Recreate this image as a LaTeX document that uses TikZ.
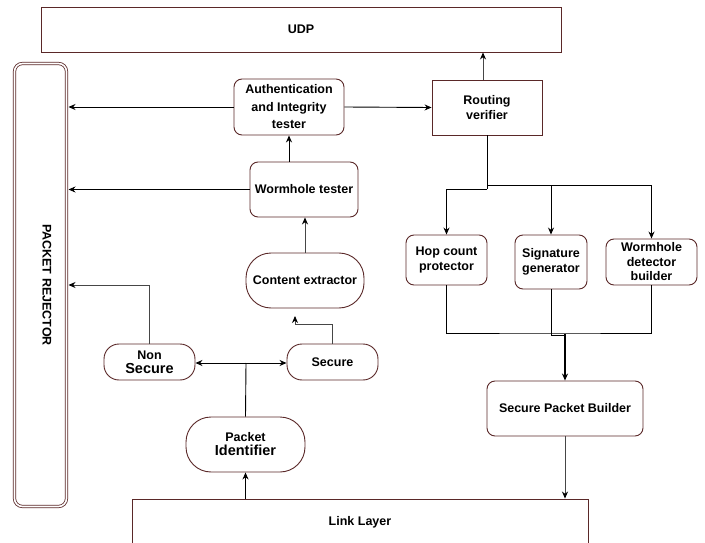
\documentclass[tikz,border=0pt]{standalone}
\usepackage{fontspec}
\setmainfont{Liberation Sans}
\usetikzlibrary{arrows.meta,calc}
\definecolor{boxc}{RGB}{90,40,40}
\definecolor{grayc}{RGB}{70,70,70}
\begin{document}
\begin{tikzpicture}[x=1pt,y=-1pt,
  every node/.style={font=\bfseries\fontsize{12.5}{15}\selectfont, align=center, inner sep=0pt},
  box/.style={draw=boxc, line width=0.9pt, fill=white},
  rbox/.style={box, rounded corners=8pt},
  pill/.style={box, rounded corners=25pt},
  sbox/.style={box, rounded corners=15pt},
  arr/.style={-{Stealth[length=7pt,width=6pt]}, line width=0.9pt, black},
  garr/.style={-{Stealth[length=7pt,width=6pt,black]}, line width=0.9pt, grayc},
  ln/.style={line width=0.9pt, black}]
\useasboundingbox (0,0) rectangle (705,543);

% boxes
\node[box, minimum width=520pt, minimum height=45pt] (udp) at (301,29.5) {UDP};
\node[draw=boxc, double=white, double distance=1.6pt, line width=0.8pt, rounded corners=8pt,
      minimum width=52pt, minimum height=443pt, outer sep=2pt] (rej) at (40.5,285) {};
\node[rotate=-90] (rejt) at (47,285) {PACKET REJECTOR};
\node[rbox, minimum width=110pt, minimum height=56pt, font=\bfseries\fontsize{12.5}{17.5}\selectfont] (auth) at (289,107) {Authentication\\and Integrity\\tester};
\node[box, minimum width=110pt, minimum height=55pt] (rv) at (487,107.5) {Routing\\verifier};
\node[rbox, minimum width=108pt, minimum height=55pt] (wt) at (304,189.5) {Wormhole tester};
\node[pill, minimum width=118pt, minimum height=55pt] (ce) at (305,280.5) {Content extractor};
\node[sbox, minimum width=91pt, minimum height=36pt] (ns) at (149.5,362) {Non\\[-1pt]{\fontsize{14.5}{16}\selectfont Secure}};
\node[sbox, minimum width=91pt, minimum height=36pt] (sec) at (332.5,362) {Secure};
\node[pill, minimum width=119pt, minimum height=55pt] (pi) at (245.5,444.5) {Packet\\[-1pt]{\fontsize{14.5}{16}\selectfont Identifier}};
\node[rbox, minimum width=81pt, minimum height=50pt] (hop) at (446.5,260) {Hop count\\protector};
\node[rbox, minimum width=72pt, minimum height=54pt] (sig) at (551,262) {Signature\\generator};
\node[rbox, minimum width=91pt, minimum height=46pt, font=\bfseries\fontsize{12.5}{14.5}\selectfont] (wdb) at (651.5,262) {Wormhole\\detector\\builder};
\node[rbox, minimum width=156pt, minimum height=55pt] (spb) at (565,408.5) {Secure Packet Builder};
\node[box, minimum width=456pt, minimum height=46pt] (ll) at (360,522) {Link Layer};

% connectors to UDP and rejector
\draw[garr] ([xshift=-4pt]rv.north) -- ([xshift=-4pt]rv.north |- udp.south);
\draw[arr] (auth.west) -- (auth.west -| rej.east);
\draw[arr] (auth.east) -- (rv.west);
\draw[arr] (wt.west) -- (wt.west -| rej.east);
\draw[arr] (wt.north -| auth.south) -- (auth.south);
\draw[garr] (ce.north) -- (ce.north |- wt.south);
\draw[garr] (ns.north) |- (rej.east);

% secure -> content extractor
\coordinate (cein) at (295,316);
\draw[garr] (sec.north) -- ++(0,-19) -| (cein);

% packet identifier
\coordinate (j) at (246,363);
\draw[ln] (pi.north) -- (j);
\draw[arr] (j) -- (j -| ns.east);
\draw[arr] (j) -- (j -| sec.west);
\draw[arr] (pi.south |- ll.north) -- (pi.south);

% routing verifier branches
\coordinate (bl) at (487,189);
\coordinate (br) at (487,185);
\draw[ln] (rv.south) -- (bl);
\draw[arr] (bl) -| (hop.north);
\draw[arr] (br) -| (wdb.north);
\draw[arr] (sig.north |- br) -- (sig.north);

% merge to secure packet builder
\coordinate (m1) at (551,333);
\coordinate (m2) at (565,334);
\draw[ln] (hop.south) |- (m1) -| (wdb.south);
\draw[ln] (sig.south) -- (m1);
\draw[ln] (m1) -- ++(0,2) -| (m2);
\draw[arr, line width=1.4pt] (m2) -- (spb.north);
\draw[garr] (spb.south) -- (spb.south |- ll.north);
\end{tikzpicture}
\end{document}
